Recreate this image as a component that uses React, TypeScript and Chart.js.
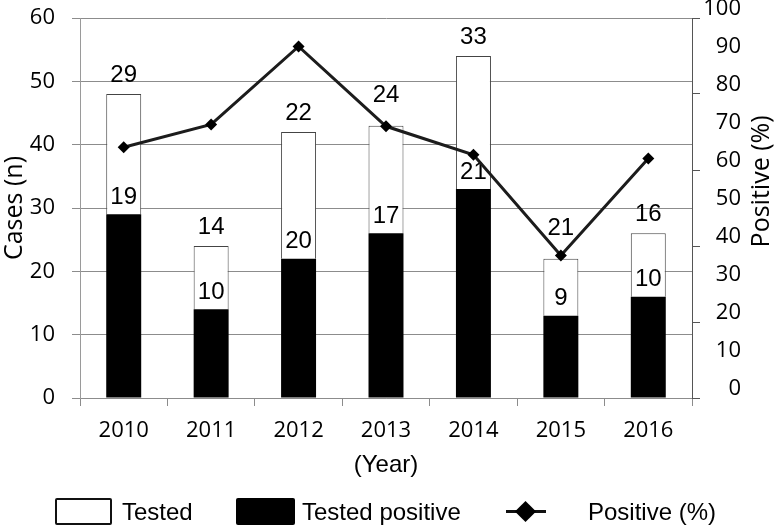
import React, { useEffect, useRef } from 'react';
import { Chart, registerables } from 'chart.js';

Chart.register(...registerables);

const years = ['2010', '2011', '2012', '2013', '2014', '2015', '2016'];
// black lower segment
const testedPositiveBars = [29, 14, 22, 26, 33, 13, 16];
// white segment stacked on top
const testedBars = [19, 10, 20, 17, 21, 9, 10];
// line, right axis (%)
const positivePct = [66, 72, 92.5, 71.5, 64, 37.5, 63];
// numbers printed above the bars / above the black segments
const topLabels = ['29', '14', '22', '24', '33', '21', '16'];
const innerLabels = ['19', '10', '20', '17', '21', '9', '10'];

const casesMin = 0;
const casesMax = 60;
const casesStep = 10;
const pctMin = 0;
const pctMax = 100;
const pctStep = 10;

const TICK_FONT = '"Open Sans", "Noto Sans", sans-serif';
const ARIAL = '"Liberation Sans", Arial, sans-serif';

const labelPlugin = {
  id: 'barLabels',
  afterDatasetDraw(chart: any, args: any) {
    if (args.index !== 1) return;
    const ctx = chart.ctx;
    ctx.save();
    ctx.font = `24px ${ARIAL}`;
    ctx.fillStyle = '#000';
    ctx.textAlign = 'center';
    ctx.textBaseline = 'middle';
    const lineMeta = chart.getDatasetMeta(0);
    const whiteMeta = chart.getDatasetMeta(2);
    whiteMeta.data.forEach((bar: any, i: number) => {
      const pt = lineMeta.data[i];
      // lift the label clear of the line marker when it sits on the bar top
      const near = pt && Math.abs(pt.y - bar.y) < 15;
      ctx.fillText(topLabels[i], bar.x, bar.y - (near ? 30 : 19));
    });
    const blackMeta = chart.getDatasetMeta(1);
    blackMeta.data.forEach((bar: any, i: number) => {
      ctx.fillText(innerLabels[i], bar.x, bar.y - 17);
    });
    ctx.restore();
  },
};

const rightTitlePlugin = {
  id: 'rightTitle',
  afterDraw(chart: any) {
    const { ctx, chartArea } = chart;
    ctx.save();
    ctx.translate(chart.width - 13, chartArea.top + 0.43 * (chartArea.bottom - chartArea.top));
    ctx.rotate(-Math.PI / 2);
    ctx.font = `25px ${TICK_FONT}`;
    ctx.fillStyle = '#000';
    ctx.textAlign = 'center';
    ctx.textBaseline = 'middle';
    ctx.fillText('Positive (%)', 0, 0);
    ctx.restore();
  },
};

function Legend() {
  const text: React.CSSProperties = {
    position: 'absolute',
    top: 498,
    height: 27,
    lineHeight: '27px',
    fontFamily: ARIAL,
    fontSize: 24,
    color: '#000',
    whiteSpace: 'nowrap',
  };
  return (
    <>
      <div
        style={{
          position: 'absolute',
          left: 55,
          top: 498,
          width: 57,
          height: 27,
          boxSizing: 'border-box',
          border: '2px solid #111',
          borderRadius: 2,
          background: '#fff',
        }}
      />
      <div style={{ ...text, left: 122 }}>Tested</div>
      <div
        style={{
          position: 'absolute',
          left: 236,
          top: 498,
          width: 59,
          height: 27,
          borderRadius: 2,
          background: '#000',
        }}
      />
      <div style={{ ...text, left: 302 }}>Tested positive</div>
      <div
        style={{
          position: 'absolute',
          left: 506,
          top: 510,
          width: 40,
          height: 3,
          background: '#111',
        }}
      />
      <div
        style={{
          position: 'absolute',
          left: 518,
          top: 504,
          width: 15,
          height: 15,
          background: '#000',
          transform: 'rotate(45deg)',
        }}
      />
      <div style={{ ...text, left: 588 }}>Positive (%)</div>
    </>
  );
}

export default function App() {
  const ref = useRef<HTMLCanvasElement | null>(null);

  useEffect(() => {
    const prevMargin = document.body.style.margin;
    document.body.style.margin = '0';
    if (!ref.current) return;
    const chart = new Chart(ref.current, {
      type: 'bar',
      data: {
        labels: years,
        datasets: [
          {
            type: 'line',
            label: 'Positive (%)',
            data: positivePct,
            yAxisID: 'y1',
            borderColor: '#1c1c1c',
            borderWidth: 3,
            pointStyle: 'rectRot',
            pointRadius: 6,
            pointBackgroundColor: '#000',
            pointBorderColor: '#000',
            pointBorderWidth: 0,
            fill: false,
            tension: 0,
            order: 0,
          } as any,
          {
            type: 'bar',
            label: 'Tested positive',
            data: testedPositiveBars,
            yAxisID: 'y',
            backgroundColor: '#000',
            borderWidth: 0,
            categoryPercentage: 1,
            barPercentage: 0.4,
            order: 1,
          },
          {
            type: 'bar',
            label: 'Tested',
            data: testedBars,
            yAxisID: 'y',
            backgroundColor: '#fff',
            borderColor: '#444',
            borderWidth: 1,
            categoryPercentage: 1,
            barPercentage: 0.4,
            order: 2,
          },
        ],
      },
      options: {
        animation: false,
        responsive: false,
        devicePixelRatio: 1,
        layout: { padding: { left: 0, right: 34, top: 18, bottom: 41 } },
        plugins: {
          legend: { display: false },
          tooltip: { enabled: false },
        },
        scales: {
          x: {
            stacked: true,
            offset: true,
            grid: {
              offset: true,
              drawOnChartArea: false,
              drawTicks: true,
              tickLength: 8,
              color: '#8c8c8c',
            },
            border: { display: true, color: '#8c8c8c' },
            ticks: {
              font: { family: TICK_FONT, size: 22 },
              color: '#000',
              padding: 12,
              maxRotation: 0,
            },
            title: {
              display: true,
              text: '(Year)',
              font: { family: ARIAL, size: 24 },
              color: '#000',
              padding: { top: 0, bottom: 5 },
            },
            afterFit: (s: any) => {
              s.height = 87;
              s.paddingLeft = 0;
              s.paddingRight = 0;
            },
          },
          y: {
            stacked: true,
            position: 'left',
            min: casesMin,
            max: casesMax,
            grid: {
              color: '#8c8c8c',
              lineWidth: 1,
              tickLength: 8,
            },
            border: { display: true, color: '#9a9a9a' },
            ticks: {
              stepSize: casesStep,
              font: { family: TICK_FONT, size: 22 },
              color: '#000',
              padding: 17,
            },
            title: {
              display: true,
              text: 'Cases (n)',
              font: { family: TICK_FONT, size: 25 },
              color: '#000',
              padding: { top: 0, bottom: 0 },
            },
            afterFit: (s: any) => {
              s.width = 80;
              s.paddingTop = 0;
              s.paddingBottom = 0;
            },
          },
          y1: {
            position: 'right',
            min: pctMin,
            max: pctMax,
            grid: {
              drawOnChartArea: false,
              tickLength: 8,
              tickColor: (c: any) =>
                c.tick && c.tick.value % 20 === 0 ? '#555' : 'rgba(0,0,0,0)',
            },
            border: { display: true, color: '#555' },
            ticks: {
              stepSize: pctStep,
              font: { family: TICK_FONT, size: 22 },
              color: '#000',
              padding: 3,
              crossAlign: 'far',
              labelOffset: -9.5,
            },
            afterFit: (s: any) => {
              s.width = 49;
              s.paddingTop = 0;
              s.paddingBottom = 0;
            },
          } as any,
        },
      },
      plugins: [labelPlugin, rightTitlePlugin],
    });
    return () => {
      chart.destroy();
      document.body.style.margin = prevMargin;
    };
  }, []);

  return (
    <div
      style={{
        position: 'absolute',
        left: 0,
        top: 0,
        width: 775,
        height: 526,
        background: '#fff',
        overflow: 'hidden',
      }}
    >
      <canvas ref={ref} width={775} height={526} style={{ display: 'block' }} />
      <Legend />
    </div>
  );
}
